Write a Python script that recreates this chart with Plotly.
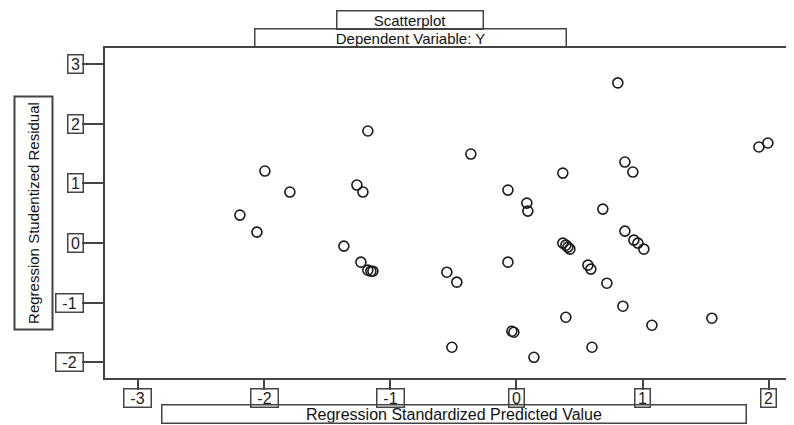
import plotly.graph_objects as go

# Data (standardized predicted value vs studentized residual)
pred = [-1.177, -1.993, -1.795, -1.264, -1.216, -2.191, -2.056, -1.367, -1.232, -1.177,
        -1.153, -1.137, -0.361, 0.804, 1.922, 1.993, 0.368, 0.860, 0.923, -0.067,
        0.083, 0.091, 0.685, -0.067, -0.551, -0.472, 0.368, 0.392, 0.424, 0.408,
        0.860, 0.931, 0.963, 1.010, 0.567, 0.590, 0.717, 0.844, 0.392, 1.074,
        1.549, -0.036, -0.020, -0.511, 0.599, 0.139]
resid = [1.879, 1.208, 0.856, 0.973, 0.856, 0.470, 0.185, -0.050, -0.319, -0.453,
         -0.470, -0.470, 1.493, 2.685, 1.611, 1.678, 1.174, 1.359, 1.191, 0.889,
         0.671, 0.537, 0.570, -0.319, -0.487, -0.654, 0.000, -0.034, -0.101, -0.067,
         0.201, 0.050, 0.000, -0.101, -0.369, -0.436, -0.671, -1.057, -1.242, -1.376,
         -1.258, -1.477, -1.493, -1.745, -1.745, -1.913]

x_ticks = [-3, -2, -1, 0, 1, 2]
x_tick_labels = ["-3", "-2", "-1", "0", "1", "2"]
y_ticks = [-2, -1, 0, 1, 2, 3]
y_tick_labels = ["-2", "-1", "0", "1", "2", "3"]

title_main = "Scatterplot"
title_sub = "Dependent Variable: Y"
x_title = "Regression Standardized Predicted Value"
y_title = "Regression Studentized Residual"

AX = "#444444"
FONT = "Liberation Sans, Arial, sans-serif"

fig = go.Figure()
fig.add_trace(go.Scatter(
    x=pred, y=resid, mode="markers",
    marker=dict(symbol="circle-open", size=10, color="#1a1a1a", line=dict(width=1.6)),
    showlegend=False, hoverinfo="x+y",
))

# page body has an 8px margin, so the figure is offset by 8px
fig.update_layout(
    width=786, height=417,
    margin=dict(l=97, r=0, t=40, b=47, autoexpand=False),
    paper_bgcolor="white", plot_bgcolor="white",
    font=dict(family=FONT, color="#111111"),
    xaxis=dict(range=[-3.26, 2.2], tickvals=x_ticks, showticklabels=False,
               ticks="outside", ticklen=10, tickwidth=1.5, tickcolor=AX,
               showline=True, linecolor=AX, linewidth=2, mirror=True,
               showgrid=False, zeroline=False),
    yaxis=dict(range=[-2.26, 3.27], tickvals=y_ticks, showticklabels=False,
               ticks="outside", ticklen=21, tickwidth=1.5, tickcolor=AX,
               showline=True, linecolor=AX, linewidth=2, mirror=False,
               showgrid=False, zeroline=False),
)

ann = []
for v, t in zip(x_ticks, x_tick_labels):
    ann.append(dict(x=v, y=0, xref="x", yref="paper", xanchor="center", yanchor="top",
                    yshift=-10, text=t, showarrow=False, width=14 if len(t) == 1 else 26,
                    bordercolor=AX, borderwidth=1.5, borderpad=0,
                    font=dict(size=16, family=FONT, color="#222222")))
for v, t in zip(y_ticks, y_tick_labels):
    ann.append(dict(x=0, y=v, xref="paper", yref="y", xanchor="right", yanchor="middle",
                    xshift=-21, text=t, showarrow=False, width=14 if len(t) == 1 else 26,
                    bordercolor=AX, borderwidth=1.5, borderpad=0,
                    font=dict(size=16, family=FONT, color="#222222")))

ann.append(dict(x=0.4427, y=1.0848, xref="paper", yref="paper", xanchor="center", yanchor="middle",
                text=title_main, showarrow=False, width=145,
                bordercolor=AX, borderwidth=1.5, borderpad=0,
                font=dict(size=15, family=FONT, color="#111111")))
ann.append(dict(x=0.4427, y=1.0288, xref="paper", yref="paper", xanchor="center", yanchor="middle",
                text=title_sub, showarrow=False, width=310,
                bordercolor=AX, borderwidth=1.5, borderpad=0,
                font=dict(size=15, family=FONT, color="#111111")))
ann.append(dict(x=0.507, y=-0.0788, xref="paper", yref="paper", xanchor="center", yanchor="top",
                text=x_title, showarrow=False, width=583,
                bordercolor=AX, borderwidth=1.5, borderpad=0,
                font=dict(size=16, family=FONT, color="#111111")))
ann.append(dict(x=-0.1045, y=0.5015, xref="paper", yref="paper", xanchor="center", yanchor="middle",
                text=y_title, showarrow=False, textangle=-90, width=229, height=34,
                bordercolor=AX, borderwidth=2, borderpad=1,
                font=dict(size=15, family=FONT, color="#111111")))

fig.update_layout(annotations=ann)
fig.write_html("out.html")
